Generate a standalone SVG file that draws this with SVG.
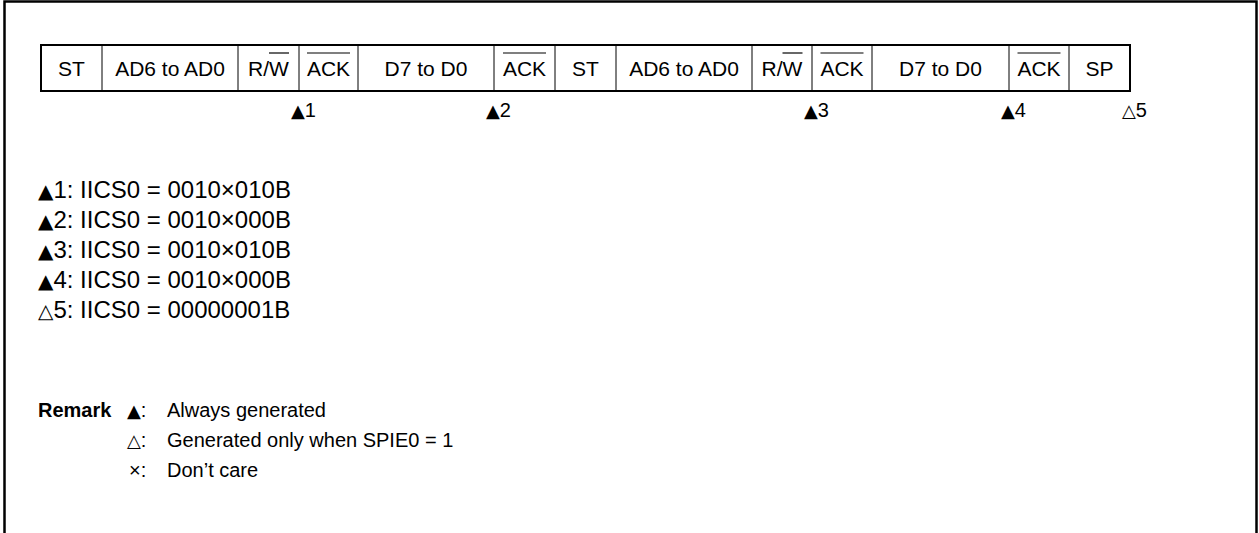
<svg xmlns="http://www.w3.org/2000/svg" width="1259" height="533" viewBox="0 0 1259 533">
<style>
.t{font-family:"Liberation Sans",Arial,sans-serif;font-size:20px;fill:#000}
.h{font-family:"Liberation Sans",Arial,sans-serif;font-size:21px;fill:#000;text-anchor:middle}
.l{font-family:"Liberation Sans",Arial,sans-serif;font-size:24px;fill:#000}
.s{font-family:"DejaVu Sans","Liberation Sans",sans-serif;font-size:18px;fill:#000}
.sl{font-family:"DejaVu Sans","Liberation Sans",sans-serif;font-size:20px;fill:#000}
.b{font-weight:bold}
.div{stroke:#000;stroke-width:1;fill:none}
.ob{stroke:#000;stroke-width:1.2;fill:none}
</style>
<rect width="1259" height="533" fill="#fff"/>
<path d="M4.5,533 V1.5 H1256.5 V533" fill="none" stroke="#000" stroke-width="2.5"/>
<g id="frame-table">
<rect x="41" y="45" width="1089" height="46" fill="none" stroke="#000" stroke-width="2"/>
<g class="div">
<line x1="102" y1="45" x2="102" y2="91"/>
<line x1="238" y1="45" x2="238" y2="91"/>
<line x1="299" y1="45" x2="299" y2="91"/>
<line x1="358" y1="45" x2="358" y2="91"/>
<line x1="494" y1="45" x2="494" y2="91"/>
<line x1="555" y1="45" x2="555" y2="91"/>
<line x1="616" y1="45" x2="616" y2="91"/>
<line x1="752" y1="45" x2="752" y2="91"/>
<line x1="812" y1="45" x2="812" y2="91"/>
<line x1="872" y1="45" x2="872" y2="91"/>
<line x1="1009" y1="45" x2="1009" y2="91"/>
<line x1="1069" y1="45" x2="1069" y2="91"/>
</g>
</g>
<g id="cell-st1"><text class="h" x="71.5" y="76">ST</text></g>
<g id="cell-addr1"><text class="h" x="170" y="76">AD6 to AD0</text></g>
<g id="cell-rw1"><text class="h" x="268.5" y="76">R/W</text><line class="ob" x1="269" y1="53" x2="289" y2="53"/></g>
<g id="cell-ack1"><text class="h" x="328.5" y="76">ACK</text><line class="ob" x1="307" y1="53" x2="350" y2="53"/></g>
<g id="cell-data1"><text class="h" x="426" y="76">D7 to D0</text></g>
<g id="cell-ack2"><text class="h" x="524.5" y="76">ACK</text><line class="ob" x1="503" y1="53" x2="546" y2="53"/></g>
<g id="cell-st2"><text class="h" x="585.5" y="76">ST</text></g>
<g id="cell-addr2"><text class="h" x="684" y="76">AD6 to AD0</text></g>
<g id="cell-rw2"><text class="h" x="782" y="76">R/W</text><line class="ob" x1="782.5" y1="53" x2="802.5" y2="53"/></g>
<g id="cell-ack3"><text class="h" x="842" y="76">ACK</text><line class="ob" x1="820.5" y1="53" x2="863.5" y2="53"/></g>
<g id="cell-data2"><text class="h" x="940.5" y="76">D7 to D0</text></g>
<g id="cell-ack4"><text class="h" x="1039" y="76">ACK</text><line class="ob" x1="1017.5" y1="53" x2="1060.5" y2="53"/></g>
<g id="cell-sp"><text class="h" x="1099.5" y="76">SP</text></g>
<g id="markers">
<text x="291" y="117"><tspan class="s">▲</tspan><tspan class="t">1</tspan></text>
<text x="486" y="117"><tspan class="s">▲</tspan><tspan class="t">2</tspan></text>
<text x="804" y="117"><tspan class="s">▲</tspan><tspan class="t">3</tspan></text>
<text x="1001" y="117"><tspan class="s">▲</tspan><tspan class="t">4</tspan></text>
<text x="1122" y="117"><tspan class="s">△</tspan><tspan class="t">5</tspan></text>
</g>
<g id="legend">
<text x="38" y="198"><tspan class="sl">▲</tspan><tspan class="l">1: IICS0 = 0010×010B</tspan></text>
<text x="38" y="228"><tspan class="sl">▲</tspan><tspan class="l">2: IICS0 = 0010×000B</tspan></text>
<text x="38" y="258"><tspan class="sl">▲</tspan><tspan class="l">3: IICS0 = 0010×010B</tspan></text>
<text x="38" y="288"><tspan class="sl">▲</tspan><tspan class="l">4: IICS0 = 0010×000B</tspan></text>
<text x="38" y="318"><tspan class="sl">△</tspan><tspan class="l">5: IICS0 = 00000001B</tspan></text>
</g>
<g id="remark">
<text class="t b" x="38" y="417">Remark</text>
<text x="127" y="417"><tspan class="s">▲</tspan><tspan class="t">:</tspan></text>
<text class="t" x="167" y="417">Always generated</text>
<text x="127" y="447"><tspan class="s">△</tspan><tspan class="t">:</tspan></text>
<text class="t" x="167" y="447">Generated only when SPIE0 = 1</text>
<text class="t" x="129" y="477">×:</text>
<text class="t" x="167" y="477">Don’t care</text>
</g>
</svg>
